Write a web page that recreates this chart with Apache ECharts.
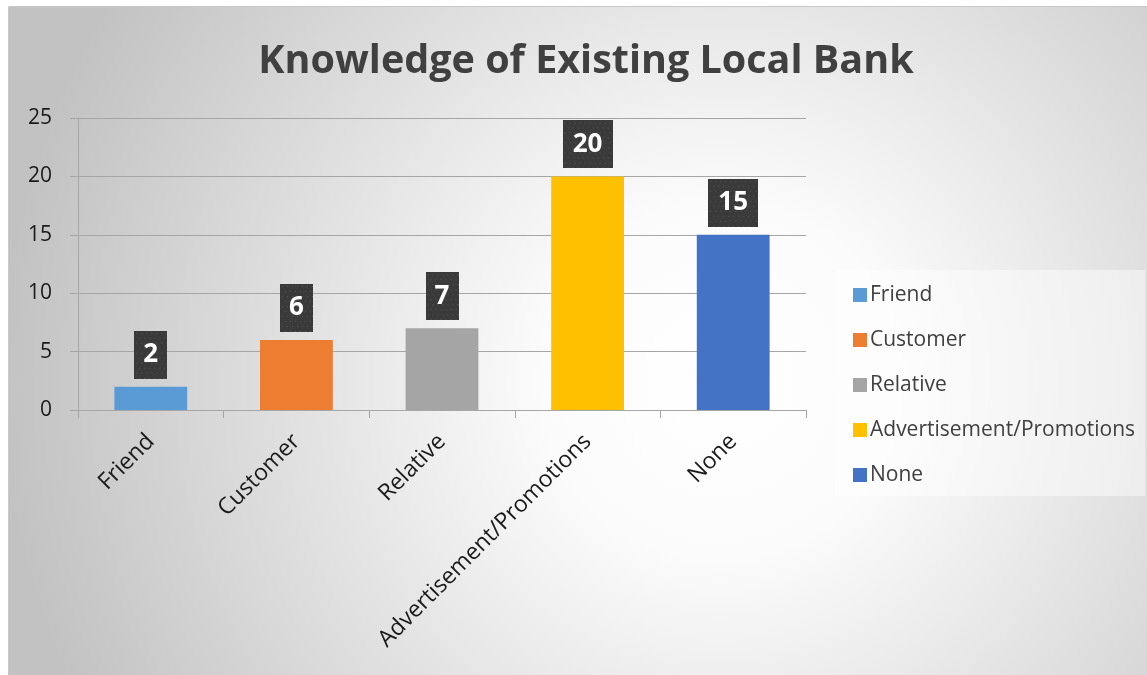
<!DOCTYPE html>
<html>
<head>
<meta charset="utf-8">
<style>
  html, body { margin: 0; padding: 0; background: #ffffff; }
  #chart { width: 1147px; height: 675px; }
</style>
<script src="https://cdn.jsdelivr.net/npm/echarts@6/dist/echarts.min.js"></script>
</head>
<body>
<div id="chart"></div>
<script>
// Sources through which respondents learned about existing local banks
const categories = ['Friend', 'Customer', 'Relative', 'Advertisement/Promotions', 'None'];
const counts = [2, 6, 7, 20, 15];
const colors = ['#5B9BD5', '#ED7D31', '#A5A5A5', '#FFC000', '#4472C4'];
const yTicks = { min: 0, max: 25, interval: 5 };

const FONT = '"Open Sans", "Noto Sans", sans-serif';

// Dark dotted tile used behind the value labels
function dottedBox(w, h) {
  const c = document.createElement('canvas');
  c.width = w; c.height = h;
  const g = c.getContext('2d');
  g.fillStyle = '#3a3a3a';
  g.fillRect(0, 0, w, h);
  g.fillStyle = '#555555';
  for (let y = 2; y < h; y += 5) {
    for (let x = (y % 10 === 2 ? 2 : 4.5); x < w; x += 5) {
      g.fillRect(Math.round(x), y, 1, 1);
    }
  }
  return c;
}

const chart = echarts.init(document.getElementById('chart'), null, { renderer: 'canvas' });

// One series per category so each gets its own legend entry; stacked so bars stay centred
const series = categories.map((name, i) => {
  const text = String(counts[i]);
  const boxW = text.length > 1 ? 50 : 33;
  const boxH = 48;
  return {
    name: name,
    type: 'bar',
    stack: 'all',
    barWidth: '50%',
    itemStyle: { color: colors[i] },
    data: categories.map((_, j) => (j === i ? counts[i] : '-')),
    label: {
      show: true,
      position: 'top',
      distance: 8,
      color: '#ffffff',
      fontFamily: FONT,
      fontWeight: 'bold',
      fontSize: 26,
      lineHeight: 32,
      width: boxW - 18,
      height: 32,
      align: 'center',
      backgroundColor: { image: dottedBox(boxW, boxH) },
      padding: [8, 9, 8, 9],
      shadowColor: 'rgba(0,0,0,0.35)',
      shadowBlur: 6,
      shadowOffsetX: 2,
      shadowOffsetY: 3
    }
  };
});

chart.setOption({
  animation: false,
  graphic: [
    {
      type: 'rect',
      z: -10,
      shape: { x: 8.5, y: 6.5, width: 1150, height: 680 },
      style: {
        fill: {
          type: 'radial',
          x: 720, y: 380, r: 720,
          global: true,
          colorStops: [
            { offset: 0, color: '#ffffff' },
            { offset: 0.25, color: '#fbfbfb' },
            { offset: 1, color: '#c2c2c2' }
          ]
        },
        stroke: '#c8c8c8',
        lineWidth: 1
      }
    },
    {
      type: 'rect',
      z: -5,
      shape: { x: 835, y: 270, width: 310, height: 226 },
      style: { fill: 'rgba(255,255,255,0.45)' }
    }
  ],
  title: {
    text: 'Knowledge of Existing Local Bank',
    left: 581,
    top: 37,
    textAlign: 'center',
    textStyle: {
      fontFamily: FONT,
      fontWeight: 'bold',
      fontSize: 39.5,
      color: '#404040'
    }
  },
  legend: {
    orient: 'vertical',
    left: 848,
    top: 278,
    itemWidth: 14,
    itemHeight: 14,
    itemGap: 21,
    icon: 'rect',
    data: categories,
    textStyle: { fontFamily: FONT, fontSize: 21, lineHeight: 24, color: '#404040', padding: [0, 0, 0, -2] }
  },
  grid: { left: 78, right: 341, top: 118, bottom: 265, containLabel: false },
  xAxis: {
    type: 'category',
    data: categories,
    axisLine: { lineStyle: { color: '#a6a6a6', width: 1 } },
    axisTick: { show: true, length: 8, lineStyle: { color: '#a6a6a6' } },
    axisLabel: {
      rotate: 45,
      margin: 28,
      fontFamily: FONT,
      fontSize: 23,
      color: '#1a1a1a'
    }
  },
  yAxis: {
    type: 'value',
    min: yTicks.min,
    max: yTicks.max,
    interval: yTicks.interval,
    axisLine: { show: true, lineStyle: { color: '#a6a6a6', width: 1 } },
    axisTick: { show: true, length: 8, lineStyle: { color: '#a6a6a6' } },
    axisLabel: { margin: 26, fontFamily: FONT, fontSize: 21, color: '#1a1a1a' },
    splitLine: { lineStyle: { color: '#a6a6a6', width: 1 } }
  },
  series: series
});
</script>
</body>
</html>
